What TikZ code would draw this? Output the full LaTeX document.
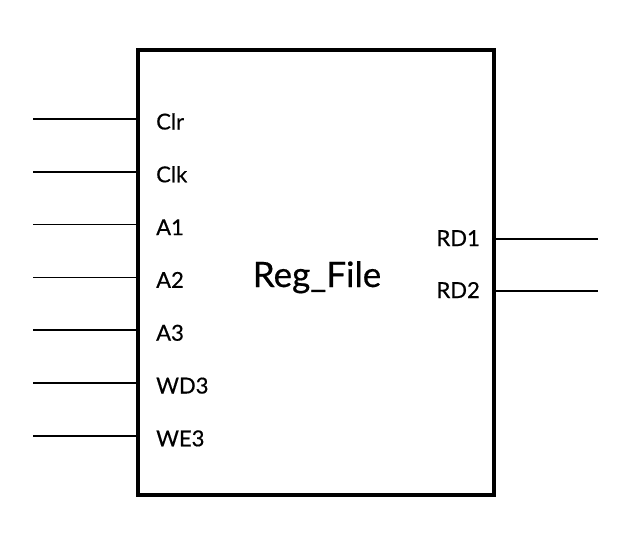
\documentclass[tikz,border=0pt]{standalone}
\usepackage{fontspec}
\setmainfont{Lato}[FakeBold=0.5]
\usetikzlibrary{positioning}

\begin{document}
\begin{tikzpicture}[x=1pt, y=-1pt,
        pin/.style={line width=1.7pt},
        pinlabel/.style={font=\fontsize{22}{25}\selectfont, inner sep=0pt}]
        \useasboundingbox (0, 0) rectangle (624, 554);
        \node[draw, line width=3.2pt, minimum width=356pt, minimum height=445pt, inner sep=0pt] (rf) at (316, 272.5) {};
        \node[anchor=base, inner sep=0pt, font=\fontsize{35}{38}\selectfont] (title) at (317, 287) {Reg\_File};

        \foreach \name/\txt [count=\i from 0] in {clr/Clr, clk/Clk, aone/A1, atwo/A2, athree/A3, wd/WD3, we/WE3} {
            \coordinate (\name) at (33, 119 + 52.8*\i);
            \node[pinlabel, anchor=base west] (\name-l) at (156, 129.5 + 52.8*\i) {\txt};
            \draw[pin] (\name) -- (rf.west |- \name);
        }

        \coordinate (rdone) at (598, 239);
        \coordinate (rdtwo) at (598, 291);
        \node[pinlabel, anchor=base east] (rdone-l) at (480, 246) {RD1};
        \node[pinlabel, anchor=base east] (rdtwo-l) at (480, 298) {RD2};
        \draw[pin] (rf.east |- rdone) -- (rdone);
        \draw[pin] (rf.east |- rdtwo) -- (rdtwo);
    \end{tikzpicture}
\end{document}
